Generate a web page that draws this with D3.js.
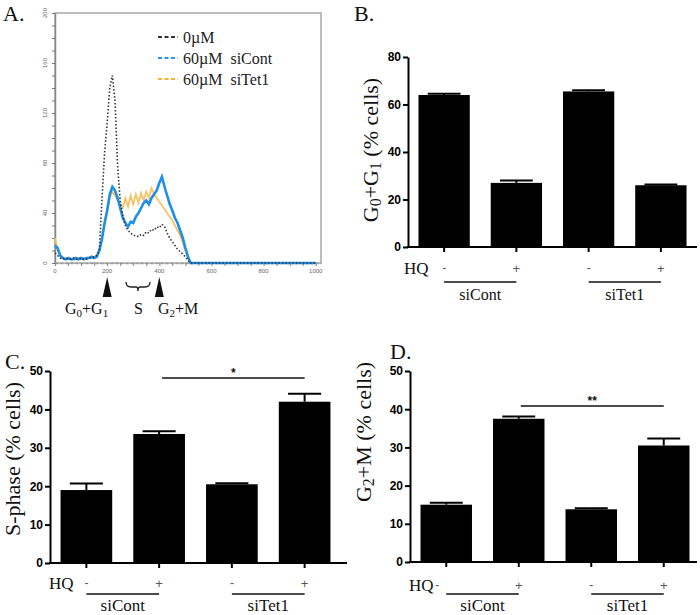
<!DOCTYPE html>
<html><head><meta charset="utf-8">
<script src="https://cdn.jsdelivr.net/npm/d3@7"></script>
<style>body{margin:0;background:#fff}svg{display:block}</style>
</head><body>
<svg id="chart" width="700" height="615"></svg>
<script>
// ---------- Panel A data (flow cytometry histogram) ----------
const histX = [0,10,20,30,40,50,60,70,80,90,100,110,120,130,140,150,160,170,180,190,200,210,220,230,240,250,260,270,280,290,300,310,320,330,340,350,360,370,380,390,400,410,420,430,440,450,460,470,480,490,500,510,520,600,700,800,900,1000];
const hist0uM = [8,6,4,3,4,3,3,4,3,3,4,3,3,4,4,5,6,10,50,88,112,140,150,130,78,50,38,30,26,24,22,22,21,23,22,25,24,27,26,29,28,31,29,24,20,17,14,11,9,7,5,2,0,0,0,0,0,0];
const histSiCont = [14,12,6,4,3,4,3,3,4,3,4,3,4,4,5,4,5,10,19,32,42,55,61,58,52,44,36,32,29,33,32,37,40,44,48,50,47,52,55,58,64,69,61,54,47,42,36,32,26,20,12,5,0,0,0,0,0,0];
const histSiTet1 = [20,10,6,4,3,3,4,3,3,4,3,4,3,4,4,5,6,11,19,30,40,52,57,54,50,47,44,52,45,54,47,55,48,56,50,57,52,60,55,52,49,46,43,40,37,34,30,26,22,16,10,4,0,0,0,0,0,0];
const histSeriesNames = ["0\u00B5M", "60\u00B5M  siCont", "60\u00B5M  siTet1"];
const histXTicks = [0,200,400,600,800,1000];
const histYTicks = [0,40,80,120,160,200];
const phasePositions = [200, 400];

// ---------- Bar panel data ----------
const conditions = ["siCont-", "siCont+", "siTet1-", "siTet1+"];
const hqSigns = ["-", "+", "-", "+"];
const groups = ["siCont", "siTet1"];
const g0g1Values = [64, 27, 65.5, 26];
const g0g1Errors = [0.5, 1.0, 0.5, 0.3];
const sPhaseValues = [19, 33.6, 20.5, 42];
const sPhaseErrors = [1.7, 0.7, 0.3, 2.1];
const g2mValues = [15, 37.5, 13.8, 30.5];
const g2mErrors = [0.5, 0.6, 0.3, 1.8];
const g0g1Ticks = [0,20,40,60,80];
const sPhaseTicks = [0,10,20,30,40,50];
const g2mTicks = [0,10,20,30,40,50];

const svg = d3.select("#chart");
const SERIF = "'Liberation Serif', 'Times New Roman', serif";
const SANS = "'Liberation Sans', Arial, sans-serif";

// ================= Panel A =================
(function(){
  const x = d3.scaleLinear().domain([0,1020]).range([55,321]);
  const y = d3.scaleLinear().domain([0,200]).range([263,13]);
  const g = svg.append("g");
  g.append("rect").attr("x",55).attr("y",13).attr("width",266).attr("height",250)
    .attr("fill","none").attr("stroke","#a8a8a8").attr("stroke-width",1.5);
  const yAx = d3.axisLeft(y).tickValues(d3.range(0,201,10)).tickSize(3).tickFormat("").tickSizeOuter(0);
  g.append("g").attr("transform","translate(55,0)").call(yAx)
    .call(s=>{s.select(".domain").attr("stroke","#888").attr("stroke-width",1.5);
              s.selectAll(".tick line").attr("stroke","#777");});
  const xAx = d3.axisBottom(x).tickValues(d3.range(0,1001,50)).tickSize(3).tickFormat("").tickSizeOuter(0);
  g.append("g").attr("transform","translate(0,263)").call(xAx)
    .call(s=>{s.select(".domain").attr("stroke","#999").attr("stroke-width",1.5).attr("stroke-dasharray","3,2");
              s.selectAll(".tick line").attr("stroke","#888");});
  g.selectAll(".ylab").data(histYTicks).enter().append("text")
    .attr("transform",d=>`translate(45,${y(d)}) rotate(-90)`)
    .attr("text-anchor","middle").attr("dy","0.35em")
    .attr("font-family",SANS).attr("font-size",6).attr("fill","#666").text(d=>d);
  g.selectAll(".xlab").data(histXTicks).enter().append("text")
    .attr("x",d=>x(d)).attr("y",273).attr("text-anchor","middle")
    .attr("font-family",SANS).attr("font-size",6).attr("fill","#666").text(d=>d);

  const line = d3.line().x((d,i)=>x(histX[i])).y(d=>y(d));
  g.append("path").datum(histSiTet1).attr("d",line).attr("fill","none")
    .attr("stroke","#f5bd55").attr("stroke-width",1.8).attr("stroke-opacity",0.9);
  g.append("path").datum(histSiCont).attr("d",line).attr("fill","none")
    .attr("stroke","#1d8fe8").attr("stroke-width",2.6);
  g.append("path").datum(hist0uM).attr("d",line).attr("fill","none")
    .attr("stroke","#333").attr("stroke-width",1.6).attr("stroke-dasharray","1.5,2");

  const legColors = ["#333","#2a96ee","#f2b43c"];
  const legY = [37,58,79];
  histSeriesNames.forEach((name,i)=>{
    g.append("line").attr("x1",158).attr("x2",178).attr("y1",legY[i]).attr("y2",legY[i])
      .attr("stroke",legColors[i]).attr("stroke-width",2).attr("stroke-dasharray","4,2.5");
    g.append("text").attr("x",183).attr("y",legY[i]+6).attr("font-family",SERIF)
      .attr("font-size",16).attr("fill","#222").attr("xml:space","preserve").text(name);
  });

  phasePositions.forEach(p=>{
    const cx = x(p);
    g.append("path").attr("d",`M${cx},277 L${cx+4.5},297 L${cx-4.5},297 Z`).attr("fill","#111");
  });
  g.append("path").attr("d","M126,282 Q126,287 131,287 L136,287 Q138,287 138,291 Q138,287 140,287 L145,287 Q150,287 150,282")
    .attr("fill","none").attr("stroke","#222").attr("stroke-width",1.3);

  const t1 = g.append("text").attr("x",65).attr("y",314).attr("font-family",SERIF).attr("font-size",16).attr("fill","#111");
  t1.append("tspan").text("G");
  t1.append("tspan").attr("font-size",11).attr("dy",3).text("0");
  t1.append("tspan").attr("dy",-3).text("+G");
  t1.append("tspan").attr("font-size",11).attr("dy",3).text("1");
  g.append("text").attr("x",134).attr("y",314).attr("font-family",SERIF).attr("font-size",16).attr("fill","#111").text("S");
  const t2 = g.append("text").attr("x",158).attr("y",314).attr("font-family",SERIF).attr("font-size",16).attr("fill","#111");
  t2.append("tspan").text("G");
  t2.append("tspan").attr("font-size",11).attr("dy",3).text("2");
  t2.append("tspan").attr("dy",-3).text("+M");
})();

// ================= Bar panels =================
function barPanel(cfg){
  const g = svg.append("g");
  const x = d3.scaleBand().domain(conditions).range([cfg.xStart, cfg.xEnd]).paddingInner(0.29).paddingOuter(0.145);
  const y = d3.scaleLinear().domain([0, cfg.yMax]).range([cfg.y0, cfg.yTop]);
  g.selectAll(".bar").data(cfg.values).enter().append("rect")
    .attr("x",(d,i)=>x(conditions[i])).attr("width",x.bandwidth())
    .attr("y",d=>y(d)).attr("height",d=>cfg.y0 - y(d)).attr("fill","#000");
  cfg.values.forEach((v,i)=>{
    const cx = x(conditions[i]) + x.bandwidth()/2;
    const top = y(v + cfg.errors[i]);
    const cw = x.bandwidth()*0.32;
    g.append("line").attr("x1",cx).attr("x2",cx).attr("y1",y(v)).attr("y2",top).attr("stroke","#000").attr("stroke-width",2);
    g.append("line").attr("x1",cx-cw).attr("x2",cx+cw).attr("y1",top).attr("y2",top).attr("stroke","#000").attr("stroke-width",2);
  });
  const yAx = d3.axisLeft(y).tickValues(cfg.ticks).tickSize(5).tickPadding(2).tickSizeOuter(0);
  g.append("g").attr("transform",`translate(${cfg.xStart},0)`).call(yAx)
    .call(s=>{
      s.select(".domain").attr("stroke","#000").attr("stroke-width",2);
      s.selectAll(".tick line").attr("stroke","#000").attr("stroke-width",2);
      s.selectAll(".tick text").attr("font-family",SANS).attr("font-weight","bold").attr("font-size",12).attr("fill","#000");
    });
  g.append("line").attr("x1",cfg.xStart-1).attr("x2",cfg.axisEnd).attr("y1",cfg.y0).attr("y2",cfg.y0)
    .attr("stroke","#000").attr("stroke-width",2);
  const xAx = d3.axisBottom(x).tickSize(5).tickFormat("").tickSizeOuter(0);
  g.append("g").attr("transform",`translate(0,${cfg.y0})`).call(xAx)
    .call(s=>{ s.select(".domain").remove();
      s.selectAll(".tick line").attr("stroke","#000").attr("stroke-width",2);});
  g.append("text").attr("x",cfg.hqX).attr("y",cfg.hqY).attr("font-family",SERIF).attr("font-size",17).attr("fill","#111").text("HQ");
  hqSigns.forEach((s,i)=>{
    const cx = x(conditions[i]) + x.bandwidth()/2 + (i===0 ? cfg.firstSignShift : 0);
    g.append("text").attr("x",cx).attr("y",cfg.hqY - (s==="-" ? 2 : 1)).attr("text-anchor","middle")
      .attr("font-family",SANS).attr("font-size",s==="-" ? 12 : 13).attr("fill","#555").text(s);
  });
  groups.forEach((grp,k)=>{
    const a = x(conditions[2*k]) + x.bandwidth()/2;
    const b = x(conditions[2*k+1]) + x.bandwidth()/2;
    g.append("line").attr("x1",a).attr("x2",b).attr("y1",cfg.lineY).attr("y2",cfg.lineY).attr("stroke","#111").attr("stroke-width",1.6);
    g.append("text").attr("x",(a+b)/2).attr("y",cfg.groupY).attr("text-anchor","middle")
      .attr("font-family",SERIF).attr("font-size",cfg.groupFont).attr("fill","#111").text(grp);
  });
  if(cfg.sig){
    const a = x(conditions[1]) + x.bandwidth()/2 + cfg.sig.dx1;
    const b = x(conditions[3]) + x.bandwidth()/2;
    g.append("line").attr("x1",a).attr("x2",b).attr("y1",cfg.sig.y).attr("y2",cfg.sig.y).attr("stroke","#111").attr("stroke-width",1.6);
    g.append("text").attr("x",(a+b)/2).attr("y",cfg.sig.y-1).attr("text-anchor","middle")
      .attr("font-family",SANS).attr("font-weight","bold").attr("font-size",12).attr("fill","#111").text(cfg.sig.text);
  }
  const t = g.append("text").attr("transform",`translate(${cfg.labX},${cfg.labY}) rotate(-90)`)
    .attr("text-anchor","middle").attr("dominant-baseline","central")
    .attr("font-family",SERIF).attr("font-size",cfg.labFont).attr("fill","#111");
  cfg.label.forEach(p=>{
    const ts = t.append("tspan").text(p.t);
    if(p.sub){ ts.attr("font-size",cfg.labFont*0.72).attr("dy",5); }
    if(p.after){ ts.attr("dy",-5); }
  });
  g.append("text").attr("x",cfg.letterX).attr("y",cfg.letterY).attr("font-family",SERIF).attr("font-size",22).attr("fill","#111").text(cfg.letter);
}

barPanel({xStart:408, xEnd:697, axisEnd:697, y0:247, yTop:57, yMax:80, ticks:g0g1Ticks,
  values:g0g1Values, errors:g0g1Errors, hqX:404, hqY:274, firstSignShift:0,
  lineY:282, groupY:300, groupFont:16,
  label:[{t:"G"},{t:"0",sub:true},{t:"+G",after:true},{t:"1",sub:true},{t:" (% cells)",after:true}],
  labX:370, labY:150, labFont:22, letter:"B.", letterX:354, letterY:21});

barPanel({xStart:50, xEnd:341, axisEnd:347, y0:563, yTop:371, yMax:50, ticks:sPhaseTicks,
  values:sPhaseValues, errors:sPhaseErrors, hqX:49, hqY:589, firstSignShift:0,
  lineY:594, groupY:611, groupFont:17, sig:{y:378, text:"*", dx1:3},
  label:[{t:"S-phase (% cells)"}],
  labX:12, labY:459, labFont:22, letter:"C.", letterX:5, letterY:369});

barPanel({xStart:410, xEnd:700, axisEnd:697, y0:562, yTop:371, yMax:50, ticks:g2mTicks,
  values:g2mValues, errors:g2mErrors, hqX:409, hqY:591, firstSignShift:-9,
  lineY:594, groupY:611, groupFont:17, sig:{y:406, text:"**", dx1:2},
  label:[{t:"G"},{t:"2",sub:true},{t:"+M (% cells)",after:true}],
  labX:363, labY:432, labFont:22, letter:"D.", letterX:390, letterY:359});

svg.append("text").attr("x",3).attr("y",21).attr("font-family",SERIF).attr("font-size",22).attr("fill","#111").text("A.");
</script>
</body></html>
